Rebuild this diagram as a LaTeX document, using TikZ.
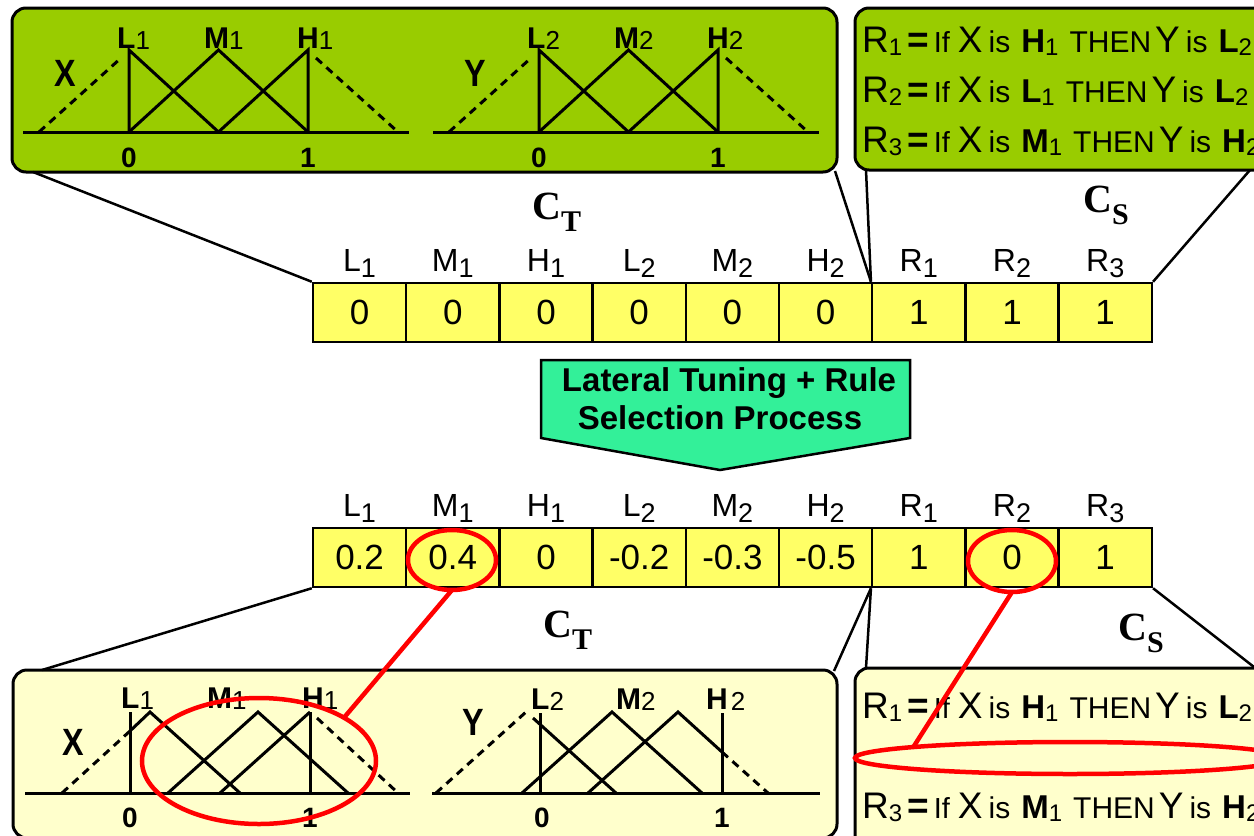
\documentclass[tikz,border=0pt]{standalone}
\usepackage{fontspec}
\setmainfont{Liberation Sans}
\newfontfamily\tnr{Liberation Serif}
\usetikzlibrary{shapes.geometric}
\definecolor{lime}{RGB}{153,204,0}
\definecolor{cellyel}{RGB}{255,255,102}
\definecolor{paleyel}{RGB}{255,255,204}
\definecolor{aqua}{RGB}{51,240,153}
\newcommand\fs[1]{\fontsize{#1}{#1}\selectfont}
\newcommand\sbx[3]{\raisebox{-#1pt}{\fs{#2}\mdseries #3}}
\newcommand\CCsub[1]{C\raisebox{-12pt}{\fs{30}#1}}
\newcommand\ruleline[5]{\fs{37}R\sbx{3}{24}{#1}\hspace{5pt}{\bfseries =}\hspace{5pt}{\fs{29}If}\hspace{8pt}X\hspace{6pt}{\fs{30}is}\hspace{11pt}{\fs{33}\bfseries #2}\sbx{3}{24}{#3}\hspace{11pt}{\fs{30}THEN}\hspace{4pt}Y\hspace{6pt}{\fs{30}is}\hspace{11pt}{\fs{33}\bfseries #4}\sbx{3}{24}{#5}}
\begin{document}
\begin{tikzpicture}[x=1pt,y=-1pt,
  box/.style={draw, line width=3, rounded corners=14, inner sep=0, outer sep=0, anchor=north west},
  cell/.style={draw, line width=2.5, fill=cellyel, minimum width=93.2, minimum height=59, inner sep=0, font={\fs{35}}},
  clab/.style={anchor=base, inner sep=0, font={\fs{32}}},
  conn/.style={line width=2.5},
  mf/.style={line width=3},
  mfd/.style={line width=3, dash pattern=on 8 off 6},
  plab/.style={anchor=base west, inner sep=0, font={\fs{30}\bfseries}},
  axl/.style={inner sep=0, font={\fs{38}\bfseries}},
  tick/.style={inner sep=0, font={\fs{28}\bfseries}},
  rulet/.style={anchor=base west, inner sep=0},
  cfont/.style={anchor=base west, inner sep=0, font={\tnr\bfseries\fs{40}}},
  redell/.style={draw=red, line width=4.5, ellipse, inner sep=0, outer sep=0},
  redln/.style={draw=red, line width=4.5}]
\useasboundingbox (0,0) rectangle (1254,836);
\clip (0,0) rectangle (1254,836);

% boxes
\node[box, fill=lime, minimum width=825, minimum height=164] (boxTL) at (12,8) {};
\node[box, fill=lime, minimum width=440, minimum height=162] (boxTR) at (855,8) {};
\node[box, fill=paleyel, minimum width=824, minimum height=168] (boxBL) at (13,670) {};
\node[box, fill=paleyel, minimum width=440, minimum height=180] (boxBR) at (855,668) {};
\coordinate (tlA) at (33,172);
\coordinate (tlB) at (835,171);
\coordinate (trA) at (866,170);
\coordinate (trB) at (1250,170);
\coordinate (blA) at (42,670);
\coordinate (blB) at (834,671);
\coordinate (brA) at (866,668);
\coordinate (brB) at (1254,667);

% chromosomes
\foreach \i/\v/\l/\s in {1/0/L/1,2/0/M/1,3/0/H/1,4/0/L/2,5/0/M/2,6/0/H/2,7/1/R/1,8/1/R/2,9/1/R/3}{
  \node[cell] (t\i) at ({313+93.2*(\i-0.5)},312.5) {\v};
  \node[clab] (tl\i) at ({313+93.2*(\i-0.5)},271) {\l\sbx{6}{27}{\s}};
}
\foreach \i/\v/\l/\s in {1/0.2/L/1,2/0.4/M/1,3/0/H/1,4/-0.2/L/2,5/-0.3/M/2,6/-0.5/H/2,7/1/R/1,8/0/R/2,9/1/R/3}{
  \node[cell] (b\i) at ({313+93.2*(\i-0.5)},557.5) {\v};
  \node[clab] (bl\i) at ({313+93.2*(\i-0.5)},516) {\l\sbx{6}{27}{\s}};
}

% connectors
\draw[conn] (t1.north west) -- (tlA);
\draw[conn] (t7.north west) -- (tlB);
\draw[conn] (t7.north west) -- (trA);
\draw[conn] (t9.north east) -- (trB);
\draw[conn] (b1.south west) -- (blA);
\draw[conn] (b7.south west) -- (blB);
\draw[conn] (b7.south west) -- (brA);
\draw[conn] (b9.south east) -- (brB);

% C labels
\node[cfont] (ct1) at (532,219) {\CCsub{T}};
\node[cfont] (cs1) at (1083,212) {\CCsub{S}};
\node[cfont] (ct2) at (543,637) {\CCsub{T}};
\node[cfont] (cs2) at (1118,640) {\CCsub{S}};

% process arrow
\draw[line width=2.5, fill=aqua] (541,360) -- (910,360) -- (910,438) -- (720,470) -- (541,438) -- cycle;
\node[anchor=base, inner sep=0, font={\fs{33}\bfseries}] (ar1) at (729,391) {Lateral Tuning + Rule};
\node[anchor=base, inner sep=0, font={\fs{33}\bfseries}] (ar2) at (720,429) {Selection Process};

% top membership functions
\foreach \p/\dx/\n/\v in {a/0/1/X,b/410/2/Y}{
\begin{scope}[xshift=\dx]
  \draw[mf] (23,132) -- (409,132);
  \draw[mf] (129,132) -- (129,50) -- (218.5,132);
  \draw[mf] (129,132) -- (218.5,50) -- (308,132);
  \draw[mf] (218.5,132) -- (308,50) -- (308,132);
  \draw[mfd] (39,132) -- (121,58);
  \draw[mfd] (316,58) -- (398,132);
  \node[plab] (\p L) at (117,48) {L\sbx{1}{26}{\n}};
  \node[plab] (\p M) at (204,48) {M\sbx{1}{26}{\n}};
  \node[plab] (\p H) at (297,48) {H\sbx{1}{26}{\n}};
  \node[axl] (\p V) at (65,73) {\scalebox{0.85}[1]{\v}};
  \node[tick] (\p 0) at (129,158) {0};
  \node[tick] (\p 1) at (308,158) {1};
\end{scope}}

% bottom-left (X, tuned)
\draw[mf] (25,793) -- (410,793);
\draw[mf] (130,793) -- (130,712);
\draw[mf] (310,793) -- (310,712);
\draw[mfd] (62,793) -- (130,731);
\draw[mf] (130,731) -- (150,712) -- (240,793);
\draw[mf] (168,793) -- (258,712) -- (348,793);
\draw[mf] (220,793) -- (310,712);
\draw[mfd] (317,718) -- (398,793);
\node[plab] (cL) at (121,708) {L\sbx{1}{26}{1}};
\node[plab] (cM) at (207,708) {M\sbx{1}{26}{1}};
\node[plab] (cH) at (302,708) {H\sbx{1}{26}{1}};
\node[axl] (cV) at (73,742) {\scalebox{0.85}[1]{X}};
\node[tick] (c0) at (130,818) {0};
\node[tick] (c1) at (310,818) {1};

% bottom-middle (Y, tuned)
\draw[mf] (432,793) -- (820,793);
\draw[mf] (540,793) -- (540,713);
\draw[mf] (722,793) -- (722,713);
\draw[mfd] (436,793) -- (526,712);
\draw[mf] (533,718) -- (616,793);
\draw[mf] (522,793) -- (612,712) -- (702,793);
\draw[mf] (588,793) -- (678,712) -- (722,752);
\draw[mfd] (722,752) -- (768,793);
\node[plab] (dL) at (531,709) {L\sbx{1}{26}{2}};
\node[plab] (dM) at (616,709) {M\sbx{1}{26}{2}};
\node[plab] (dH) at (706,709) {H\hspace{3pt}\sbx{1}{26}{2}};
\node[axl] (dV) at (473,722) {\scalebox{0.85}[1]{Y}};
\node[tick] (d0) at (542,818) {0};
\node[tick] (d1) at (722,818) {1};

% rules
\node[rulet] (r1) at (862,52) {\ruleline{1}{H}{1}{L}{2}};
\node[rulet] (r2) at (862,102) {\ruleline{2}{L}{1}{L}{2}};
\node[rulet] (r3) at (862,152) {\ruleline{3}{M}{1}{H}{2}};
\node[rulet] (s1) at (862,718) {\ruleline{1}{H}{1}{L}{2}};
\node[rulet] (s3) at (862,818) {\ruleline{3}{M}{1}{H}{2}};

% red highlights
\node[redell, minimum width=88, minimum height=60] (e1) at (452,560) {};
\node[redell, minimum width=234, minimum height=126] (e2) at (259,761) {};
\node[redell, minimum width=88, minimum height=62] (e3) at (1012,561) {};
\node[redell, minimum width=430, minimum height=32] (e4) at (1070,758) {};
\draw[redln] (e1.south) -- (e2.27);
\draw[redln] (e3.south) -- (e4.176);
\end{tikzpicture}
\end{document}
